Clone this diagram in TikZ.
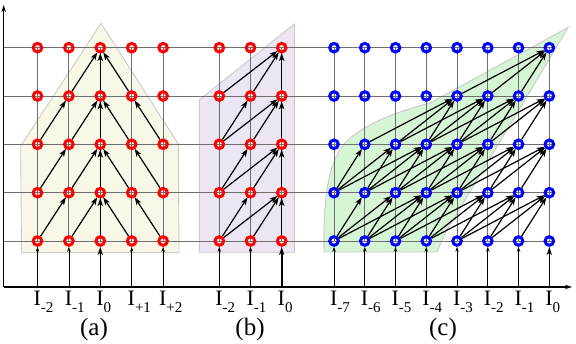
\documentclass[tikz,border=0pt]{standalone}
\usepackage{fontspec}
\setmainfont{Liberation Serif}
\usetikzlibrary{arrows.meta}
\pgfdeclarelayer{background}
\pgfdeclarelayer{gridlayer}
\pgfsetlayers{background,gridlayer,main}
\definecolor{regA}{RGB}{249,247,230}
\definecolor{regB}{RGB}{236,229,242}
\definecolor{regC}{RGB}{214,245,212}
\definecolor{regEdge}{RGB}{205,200,205}
\definecolor{gridc}{RGB}{110,110,110}
\tikzset{
  rnode/.style={circle,draw=red,line width=3pt,minimum size=8.6pt,inner sep=0pt},
  bnode/.style={circle,draw=blue,line width=3pt,minimum size=8.6pt,inner sep=0pt},
  link/.style={line width=1.2pt,black,-{Stealth[length=8pt,width=5.4pt,inset=2pt]},shorten >=-0.5pt},
  inp/.style={line width=0.8pt,black,-{Stealth[length=5pt,width=3.4pt]}},
  inpz/.style={line width=1.6pt,black,-{Stealth[length=8pt,width=5pt,inset=2pt]}},
  axis/.style={line width=1.2pt,black,-{Stealth[length=7pt,width=4.4pt]}},
  gridl/.style={gridc,line width=0.9pt},
  region/.style={draw=regEdge,line width=0.9pt},
  lbl/.style={anchor=base west,inner sep=0pt,font=\fontsize{22}{22}\selectfont},
  captxt/.style={anchor=base,inner sep=0pt,font=\fontsize{25}{25}\selectfont}
}
\newcommand{\sbs}[1]{\raisebox{-7pt}{\fontsize{15}{15}\selectfont #1}}
\begin{document}
\begin{tikzpicture}[x=1pt,y=-1pt]
\useasboundingbox (0,0) rectangle (576,344);
% rows
\def\rowy#1{\ifcase#1 241\or 192.7\or 144.3\or 96\or 47.7\fi}
% nodes (a)
\foreach \i in {0,...,4}{
  \foreach \r in {0,...,4}{
    \pgfmathsetmacro\xx{37.5+31.4*\i}
    \node[rnode] (a\i\r) at (\xx,\rowy{\r}) {};
  }
}
% nodes (b)
\foreach \i in {0,...,2}{
  \foreach \r in {0,...,4}{
    \pgfmathsetmacro\xx{219.3+31.2*\i}
    \node[rnode] (b\i\r) at (\xx,\rowy{\r}) {};
  }
}
% nodes (c)
\foreach \i in {0,...,7}{
  \foreach \r in {0,...,4}{
    \pgfmathsetmacro\xx{334+30.76*\i}
    \node[bnode] (c\i\r) at (\xx,\rowy{\r}) {};
  }
}
% axis coordinates
\coordinate (o) at (3.7,287);
\coordinate (ytop) at (3.7,5);
\coordinate (xend) at (572,287);
\coordinate (hl) at (3.7,0);
\coordinate (hr) at (553,0);
% regions and white disks
\begin{pgfonlayer}{background}
  \draw[region,fill=regA] (21.5,252.7) -- (20.7,146) -- (101,23.3) -- (178.3,144) -- (179,252.7) -- cycle;
  \draw[region,fill=regB] (199.3,252.3) -- (199.3,100) -- (294.3,24) -- (294.3,252.3) -- cycle;
  \draw[region,fill=regC] (324,252) .. controls (323,200) and (328,162) .. (345,143)
      .. controls (362,125) and (395,112) .. (430,103) -- (568.3,27.3) -- (447,230)
      .. controls (442,240) and (439,247) .. (437,252) -- cycle;
  \foreach \n in {a,c}{
    \foreach \i in {0,...,4}{\foreach \r in {0,...,4}{\fill[white] (\n\i\r.center) circle (3pt);}}}
  \foreach \i in {5,6,7}{\foreach \r in {0,...,4}{\fill[white] (c\i\r.center) circle (3pt);}}
  \foreach \i in {0,1,2}{\foreach \r in {0,...,4}{\fill[white] (b\i\r.center) circle (3pt);}}
\end{pgfonlayer}
% grid
\begin{pgfonlayer}{gridlayer}
  \foreach \r in {0,...,4}{
    \draw[gridl] (hl |- a0\r) -- (hr |- a0\r);
  }
  \foreach \i in {0,...,4}{\draw[gridl] (a\i0.center) -- (a\i4.center);}
  \foreach \i in {0,...,2}{\draw[gridl] (b\i0.center) -- (b\i4.center);}
  \foreach \i in {0,...,7}{\draw[gridl] (c\i0.center) -- (c\i4.center);}
\end{pgfonlayer}
% axes
\draw[axis] (o) -- (ytop);
\draw[axis] (o) -- (xend);
% inputs
\foreach \i in {0,1,3,4}{\draw[inp] (o -| a\i0) -- (a\i0);}
\draw[inpz] (o -| a20) -- (a20);
\foreach \i in {0,1}{\draw[inp] (o -| b\i0) -- (b\i0);}
\draw[inpz] (o -| b20) -- (b20);
\foreach \i in {0,...,6}{\draw[inp] (o -| c\i0) -- (c\i0);}
\draw[inpz] (o -| c70) -- (c70);
% links (a)
\foreach \r [evaluate=\r as \s using int(\r+1)] in {0,1,2}{
  \draw[link] (a0\r) -- (a1\s);
  \draw[link] (a1\r) -- (a2\s);
  \draw[link] (a2\r) -- (a2\s);
  \draw[link] (a3\r) -- (a2\s);
  \draw[link] (a4\r) -- (a3\s);
}
\draw[link] (a13) -- (a24);
\draw[link] (a23) -- (a24);
\draw[link] (a33) -- (a24);
% links (b)
\foreach \r [evaluate=\r as \s using int(\r+1)] in {0,1,2}{
  \draw[link] (b0\r) -- (b1\s);
  \draw[link] (b0\r) -- (b2\s);
  \draw[link] (b1\r) -- (b2\s);
  \draw[link] (b2\r) -- (b2\s);
}
\draw[link] (b03) -- (b24);
\draw[link] (b13) -- (b24);
\draw[link] (b23) -- (b24);
% links (c)
\foreach \r/\lo in {0/1,1/1,2/4,3/7}{
  \pgfmathtruncatemacro\s{\r+1}
  \foreach \t in {\lo,...,7}{
    \foreach \d in {1,2,3}{
      \pgfmathtruncatemacro\u{\t-\d}
      \ifnum\u>-1 \draw[link] (c\u\r) -- (c\t\s);\fi
    }
  }
}
% labels
\node[lbl] (la0) at ([xshift=-4.2pt]a00 |- 0,306) {I\sbs{-2}};
\node[lbl] (la1) at ([xshift=-4.2pt]a10 |- 0,306) {I\sbs{-1}};
\node[lbl] (la2) at ([xshift=-4.2pt]a20 |- 0,306) {I\sbs{0}};
\node[lbl] (la3) at ([xshift=-4.2pt]a30 |- 0,306) {I\sbs{+1}};
\node[lbl] (la4) at ([xshift=-4.2pt]a40 |- 0,306) {I\sbs{+2}};
\node[lbl] (lb0) at ([xshift=-4.2pt]b00 |- 0,306) {I\sbs{-2}};
\node[lbl] (lb1) at ([xshift=-4.2pt]b10 |- 0,306) {I\sbs{-1}};
\node[lbl] (lb2) at ([xshift=-4.2pt]b20 |- 0,306) {I\sbs{0}};
\node[lbl] (lc0) at ([xshift=-4.2pt]c00 |- 0,306) {I\sbs{-7}};
\node[lbl] (lc1) at ([xshift=-4.2pt]c10 |- 0,306) {I\sbs{-6}};
\node[lbl] (lc2) at ([xshift=-4.2pt]c20 |- 0,306) {I\sbs{-5}};
\node[lbl] (lc3) at ([xshift=-4.2pt]c30 |- 0,306) {I\sbs{-4}};
\node[lbl] (lc4) at ([xshift=-4.2pt]c40 |- 0,306) {I\sbs{-3}};
\node[lbl] (lc5) at ([xshift=-4.2pt]c50 |- 0,306) {I\sbs{-2}};
\node[lbl] (lc6) at ([xshift=-4.2pt]c60 |- 0,306) {I\sbs{-1}};
\node[lbl] (lc7) at ([xshift=-4.2pt]c70 |- 0,306) {I\sbs{0}};
\node[captxt] (capa) at (94,336) {(a)};
\node[captxt] (capb) at (250,336) {(b)};
\node[captxt] (capc) at (443,336) {(c)};
\end{tikzpicture}
\end{document}
